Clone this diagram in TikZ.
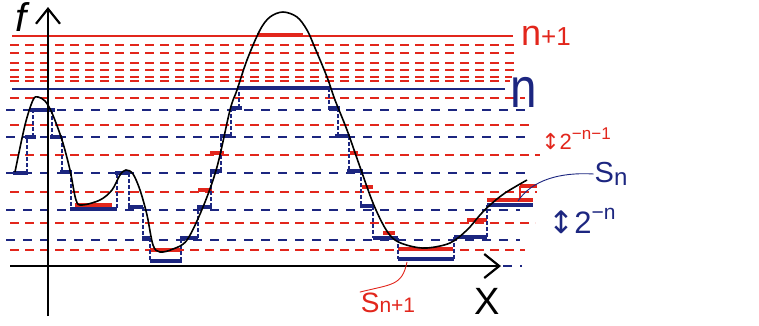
\documentclass[tikz,border=0pt]{standalone}
\usepackage{fontspec}
\setmainfont{Liberation Sans}
\newfontfamily\arrfont{DejaVu Sans}
\usetikzlibrary{arrows.meta}
\definecolor{hred}{RGB}{226,38,28}
\definecolor{hblue}{RGB}{28,38,128}
\begin{document}
\begin{tikzpicture}[x=1pt,y=-1pt,
  rdash/.style={hred,line width=1.8pt,dash pattern=on 9pt off 6pt},
  bdash/.style={hblue,line width=1.8pt,dash pattern=on 9pt off 8pt},
  bstep/.style={hblue,line width=3.8pt},
  rstep/.style={hred,line width=3.8pt},
  bvert/.style={hblue,line width=1.2pt,dash pattern=on 4pt off 2pt},
  rvert/.style={hred,line width=1.2pt},
  axis/.style={black,line width=2.2pt,-{Straight Barb[length=15pt,width=24pt,line width=2.2pt]}},
  curve/.style={black,line width=1.6pt},
  lbl/.style={inner sep=0pt,outer sep=1pt},
  leader/.style={line width=0.9pt}]
\useasboundingbox (0,0) rectangle (759,325);
% red dashed levels
\foreach \yy/\xe in {45/518,53/518,63/515,70/515,77/512,81/510,98/525,125/530,155/540,192/537,223/535,250/525}
  \draw[rdash] (10,\yy) -- (\xe,\yy);
% blue dashed levels
\foreach \yy/\xe in {110/530,137/530,173/525,210/520,240/520}
  \draw[bdash] (6,\yy) -- (\xe,\yy);
\draw[bdash] (503,266) -- (522,266);
% solid levels
\draw[hred,line width=1.9pt] (12,36) -- (513,36);
\draw[hblue,line width=1.9pt] (12,89) -- (505,89);
% S_{n+1} steps (red)
\foreach \a/\b/\yy in {75/112/205,150/180/250,198/212/190,210/224/153,257/303/35,350/358/153,362/373/187,383/395/233,398/453/249,467/487/220,487/533/200,520/537/186}
  \draw[rstep] (\a,\yy) -- (\b,\yy);
\draw[rvert] (520,200) -- (520,186);
% S_n steps (blue)
\foreach \a/\b/\yy in {13/28/173,25/36/137,30/55/110,50/62/137,60/72/172,70/117/209,115/129/173,128/143/207,142/150/238,150/182/261,180/198/238,197/212/207,210/222/171,220/232/136,230/242/108,237/330/88,328/340/108,335/350/136,347/363/171,360/373/206,373/398/238,398/454/259,454/487/237,487/533/205}
  \draw[bstep] (\a,\yy) -- (\b,\yy);
\foreach \xx/\ya/\yb in {27/173/137,33/137/110,52/110/137,62/137/172,71/172/208,117/208/173,129/173/207,143/207/238,150/238/261,181/261/238,198/238/207,211/207/171,221/171/136,231/136/108,239/108/88,329/88/108,338/108/136,349/136/171,361/171/206,373/206/238,398/238/259,454/259/237,487/237/205}
  \draw[bvert] (\xx,\ya) -- (\xx,\yb);
% axes
\draw[axis] (10,266) -- (501,266);
\draw[axis] (48,316) -- (48,7);
% function
\draw[curve] plot[smooth,tension=0.55] coordinates {(15,172) (25,125) (33,100) (38,97) (45,101) (52,113) (62,140) (70,170) (76,200) (82,205) (100,200) (112,190) (120,175) (126,170) (133,174) (140,190) (147,215) (153,245) (160,252) (173,249) (187,240) (203,207) (217,167) (230,110) (237,90) (247,60) (260,30) (270,17) (283,12) (297,17) (307,30) (315,48) (327,77) (335,100) (347,130) (360,167) (373,203) (385,228) (395,240) (410,246) (427,248) (450,243) (467,230) (480,215) (490,205) (505,193) (527,180)};
% labels
\node[lbl] (fl) at (21,17) {\fontsize{40}{40}\selectfont\itshape f};
\node[lbl] (xl) at (487,301) {\fontsize{38}{38}\selectfont X};
\node[lbl,text=hred] (np1) at (546,36) {{\fontsize{36}{36}\selectfont n}{\fontsize{26}{26}\selectfont +1}};
\node[lbl,text=hblue] (nl) at (524,92) {\scalebox{0.85}[1]{\fontsize{56}{56}\selectfont n}};
\node[lbl,text=hred] (d1) at (576,139) {{\fontsize{22}{22}\selectfont{\arrfont ↕}2}\raisebox{10pt}{\fontsize{17}{17}\selectfont −n−1}};
\node[lbl,text=hblue] (snl) at (611,174) {{\fontsize{29}{29}\selectfont S}\raisebox{-3pt}{\fontsize{24}{24}\selectfont n}};
\node[lbl,text=hblue] (d2) at (582,221) {{\fontsize{31}{31}\selectfont{\arrfont ↕}2}\raisebox{14pt}{\fontsize{21}{21}\selectfont −n}};
\node[lbl,text=hred] (snp1) at (388,303) {{\fontsize{28}{28}\selectfont S}{\fontsize{21}{21}\selectfont n+1}};
% leaders
\coordinate (snpt) at (518,201);
\coordinate (snp1pt) at (407,262);
\draw[leader,hblue] (snpt) .. controls (532,180) and (560,172) .. (snl.west);
\draw[leader,hred] (snp1pt) .. controls (402,286) and (392,284) .. (snp1.north west);
\end{tikzpicture}
\end{document}
